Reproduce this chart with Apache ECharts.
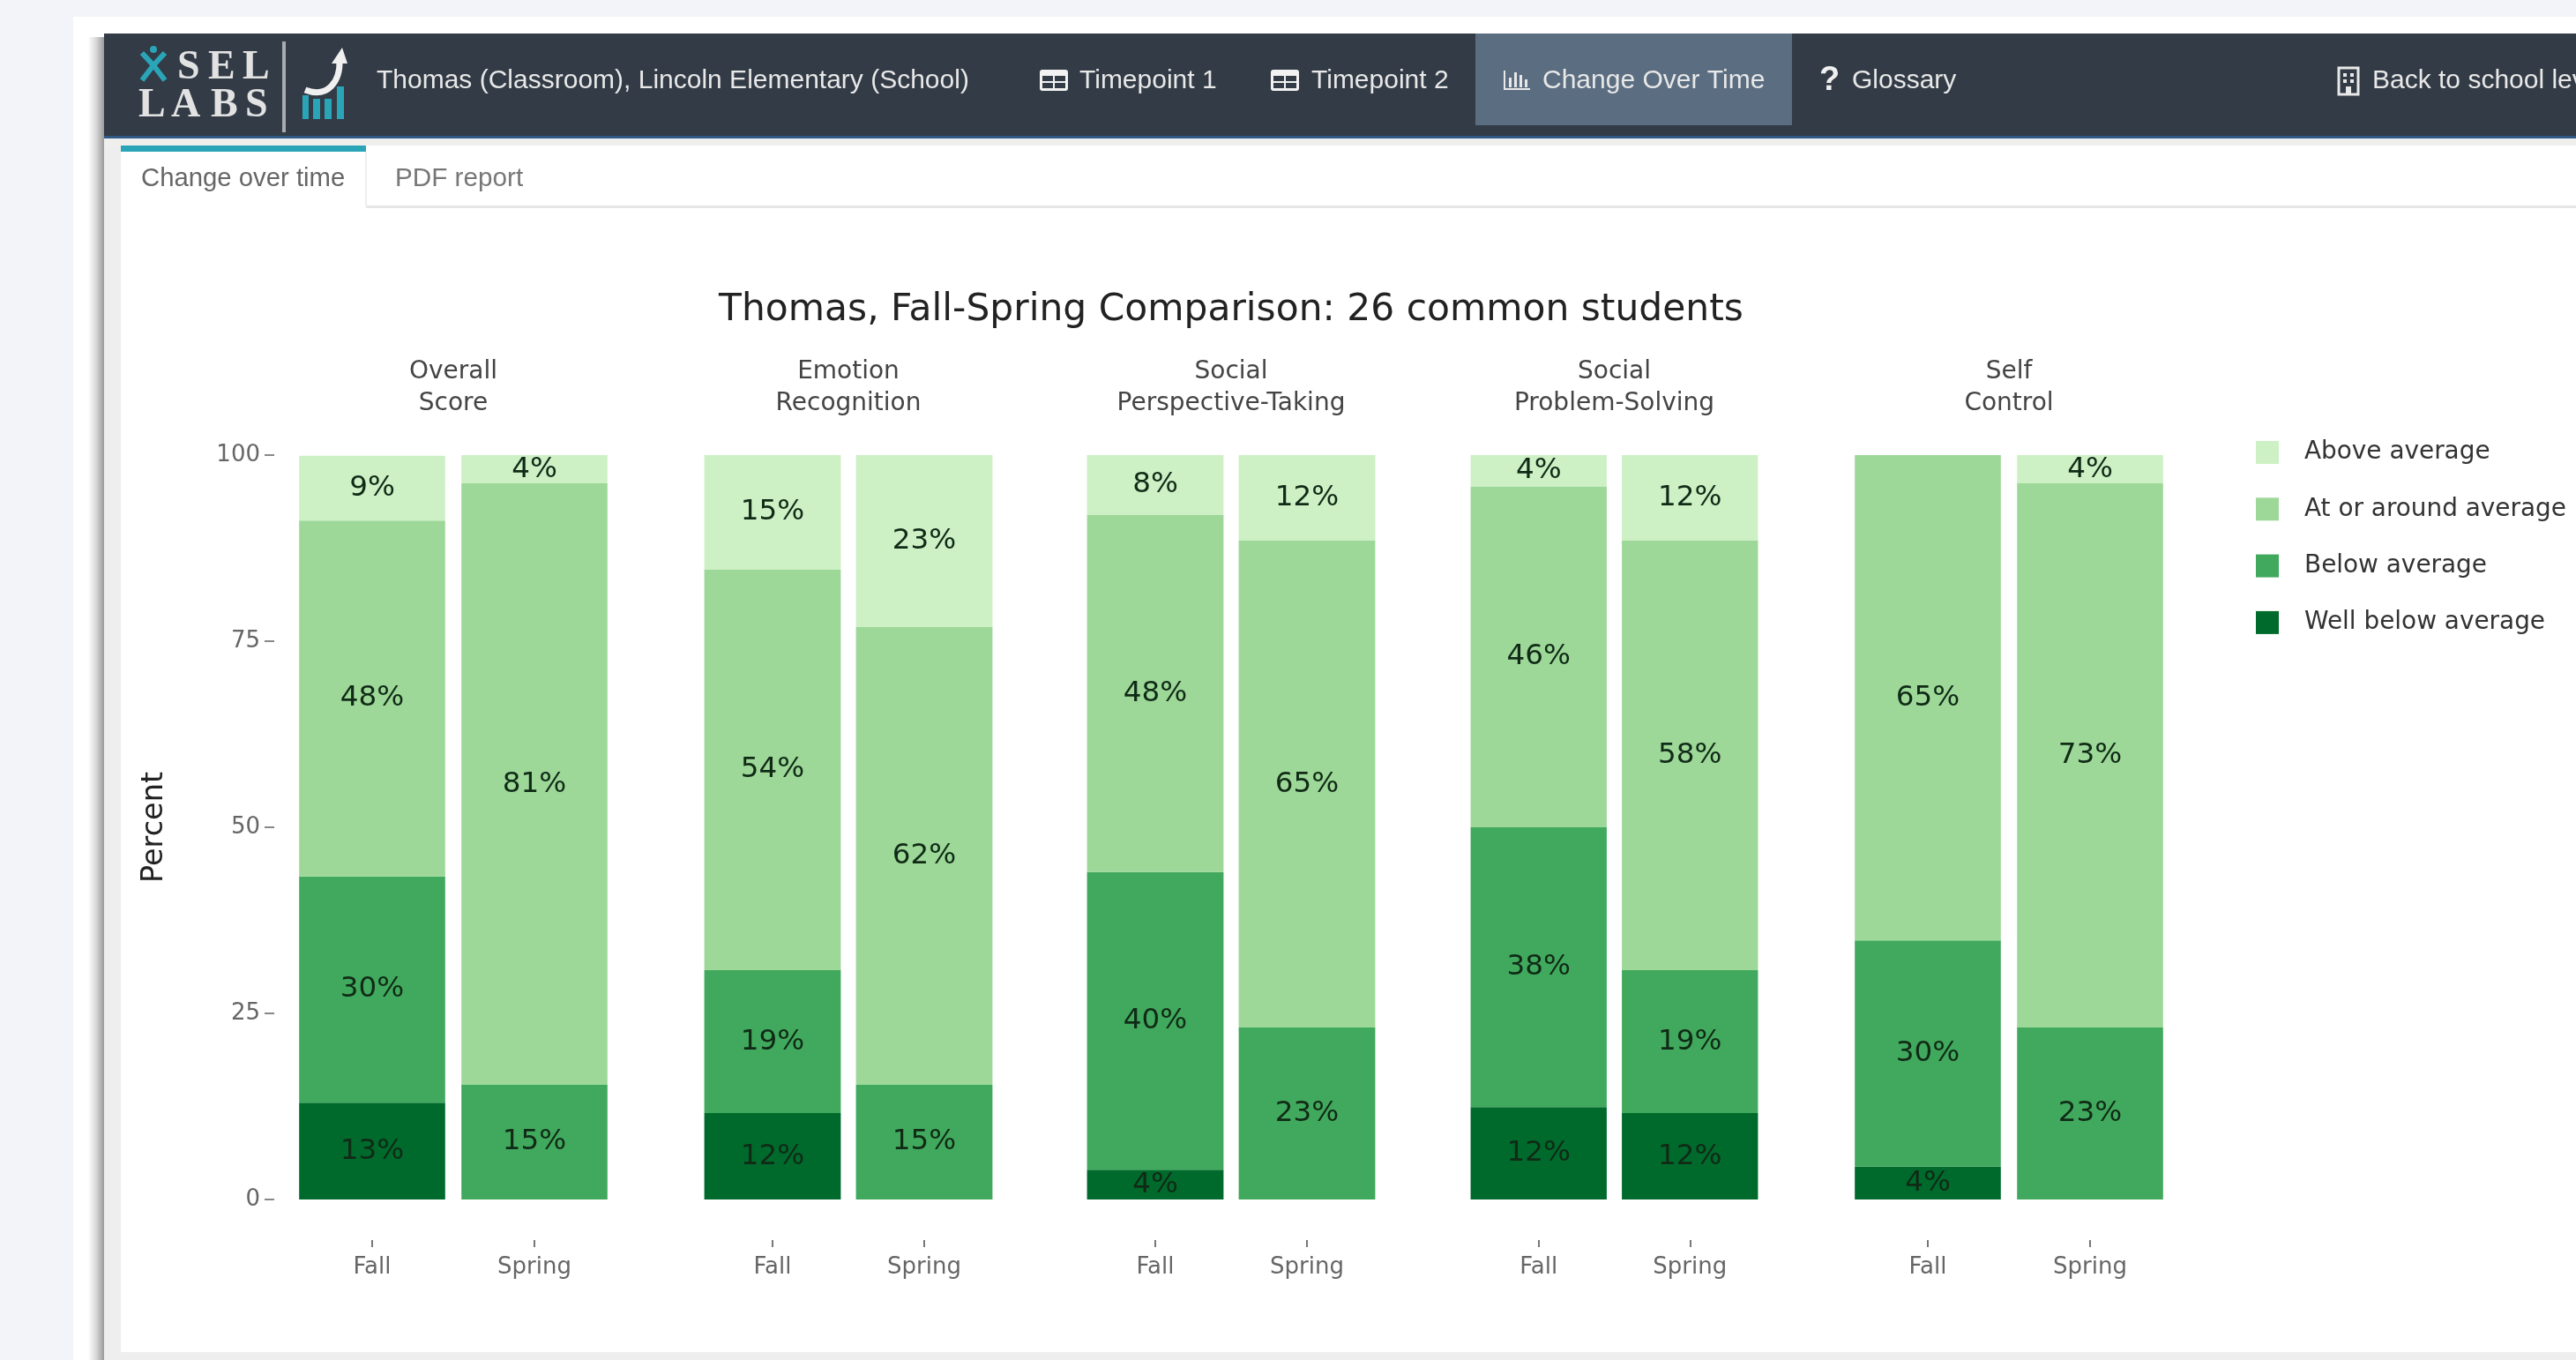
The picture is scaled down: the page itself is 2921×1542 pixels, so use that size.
<!DOCTYPE html>
<html>
<head>
<meta charset="utf-8">
<style>html,body{margin:0;padding:0;background:#f3f4f9;overflow:hidden}#c{width:2921px;height:1542px}</style>
<script src="https://cdn.jsdelivr.net/npm/echarts@6/dist/echarts.min.js"></script>
</head>
<body>
<div id="c"></div>
<script>
const chartTitle = 'Thomas, Fall-Spring Comparison: 26 common students';
const categories = ['Fall', 'Spring'];
const panelTitles = ['Overall\nScore', 'Emotion\nRecognition', 'Social\nPerspective-Taking', 'Social\nProblem-Solving', 'Self\nControl'];
const levelNames = ['Above average', 'At or around average', 'Below average', 'Well below average'];
const yTicks = [0, 25, 50, 75, 100];
// each array: one [Fall, Spring] pair per panel
const aboveAverage = [[8.7, 3.8], [15.4, 23.1], [8, 11.5], [4.2, 11.5], [0, 3.8]];
const atAverage = [[47.8, 80.8], [53.8, 61.5], [48, 65.4], [45.8, 57.7], [65.2, 73.1]];
const belowAverage = [[30.4, 15.4], [19.2, 15.4], [40, 23.1], [37.6, 19.2], [30.4, 23.1]];
const wellBelowAverage = [[13, 0], [11.6, 0], [4, 0], [12.4, 11.6], [4.4, 0]];

const levelColors = ['#cdf0c5', '#9dd898', '#41a95d', '#006a2c'];
const panelLeft = [330, 790, 1224, 1659, 2094];
const panelWidth = [368, 344, 344, 343, 368];
const plotTop = 516, plotHeight = 844;
const SANS = '"DejaVu Sans"', NAV = '"Liberation Sans"', LOGO = '"Liberation Serif"';

const grid = [], xAxis = [], yAxis = [], series = [];
const title = [{text: chartTitle, left: 1391, top: 326, textAlign: 'center',
  textStyle: {fontFamily: SANS, fontSize: 42.4, fontWeight: 'normal', color: '#222'}}];

panelTitles.forEach((t, i) => {
  grid.push({left: panelLeft[i], top: plotTop, width: panelWidth[i], height: plotHeight});
  title.push({text: t, left: panelLeft[i] + panelWidth[i] / 2 - 5, top: 399, textAlign: 'center',
    textStyle: {fontFamily: SANS, fontSize: 28, fontWeight: 'normal', color: '#444', lineHeight: 36}});
  xAxis.push({type: 'category', gridIndex: i, data: categories, offset: 46,
    axisLine: {show: false, onZero: false},
    axisTick: {show: true, alignWithLabel: true, length: 8, lineStyle: {color: '#777', width: 2}},
    axisLabel: {fontFamily: SANS, fontSize: 26, color: '#666', margin: 18}});
  yAxis.push(i === 0
    ? {type: 'value', gridIndex: i, min: 0, max: 100, interval: 25, offset: 19,
       name: 'Percent', nameLocation: 'middle', nameGap: 119, nameRotate: 90,
       nameTextStyle: {fontFamily: SANS, fontSize: 33.5, color: '#222'},
       axisLine: {show: false}, axisTick: {show: true, length: 11, lineStyle: {color: '#888', width: 2}},
       splitLine: {show: false},
       axisLabel: {fontFamily: SANS, fontSize: 26, color: '#666', margin: 16, padding: [4, 0, 0, 0],
         formatter: v => yTicks.includes(v) ? String(v) : ''}}
    : {type: 'value', gridIndex: i, min: 0, max: 100, interval: 25, show: false, splitLine: {show: false}});
  [[wellBelowAverage, 3], [belowAverage, 2], [atAverage, 1], [aboveAverage, 0]].forEach(([vals, lv]) => {
    series.push({type: 'bar', name: levelNames[lv], stack: 'p' + i, xAxisIndex: i, yAxisIndex: i,
      barWidth: '90%', data: vals[i], itemStyle: {color: levelColors[lv]}, silent: true,
      label: {show: true, position: 'inside', fontFamily: SANS, fontSize: 32.6, color: '#102a16',
        formatter: p => p.value > 0 ? Math.round(p.value) + '%' : ''}});
  });
});

// page chrome (dashboard frame around the chart)
const rect = (x, y, w, h, fill, z) => ({type: 'rect', z: z === undefined ? -5 : z, silent: true,
  shape: {x, y, width: w, height: h}, style: {fill}});
const txt = (s, x, y, font, size, fill, weight) => ({type: 'text', z: 5, silent: true, x, y,
  style: {text: s, font: `${weight || 'normal'} ${size}px ${font}`, fill, verticalAlign: 'middle'}});
const tableIcon = (x) => [
  {type: 'rect', z: 5, silent: true, shape: {x, y: 79, width: 32, height: 24, r: 3}, style: {fill: '#f2f2f2'}},
  rect(x + 3, 86, 12, 6, '#323b46', 6), rect(x + 17, 86, 12, 6, '#323b46', 6),
  rect(x + 3, 94, 12, 6, '#323b46', 6), rect(x + 17, 94, 12, 6, '#323b46', 6)
];
const shadow = new echarts.graphic.LinearGradient(0, 0, 1, 0, [
  {offset: 0, color: '#ffffff'}, {offset: 0.5, color: '#d8d8d8'}, {offset: 1, color: '#9a9a9a'}]);
const TEAL = '#2aa5b8', LOGOTXT = '#e2e2e2';
const graphicEls = [
  rect(83, 19, 2838, 1523, '#ffffff', -20),
  rect(100, 42, 18, 1500, shadow, -19),
  rect(118, 155, 19, 1387, '#eeeeee', -19),
  rect(118, 1533, 2803, 9, '#eeeeee', -19),
  rect(118, 38, 2803, 117, '#323b46', 1),
  rect(118, 154, 2803, 3, '#2f5a85', 1),
  rect(118, 157, 2803, 8, '#eff0ee', 1),
  rect(137, 165, 278, 7, TEAL, 2),
  rect(415, 233, 2506, 3, '#e6e6e6', 1),
  rect(414, 172, 2, 62, '#eeeeee', 1),
  rect(1673, 38, 359, 104, '#5b6d80', 2),
  // logo
  txt('S', 201, 77, LOGO, 46, LOGOTXT, 'bold'),
  txt('E', 236, 77, LOGO, 46, LOGOTXT, 'bold'),
  txt('L', 275, 77, LOGO, 46, LOGOTXT, 'bold'),
  txt('L', 157, 120, LOGO, 46, LOGOTXT, 'bold'),
  txt('A', 194, 120, LOGO, 46, LOGOTXT, 'bold'),
  txt('B', 239, 120, LOGO, 46, LOGOTXT, 'bold'),
  txt('S', 278, 120, LOGO, 46, LOGOTXT, 'bold'),
  {type: 'circle', z: 5, silent: true, shape: {cx: 174, cy: 56, r: 4}, style: {fill: TEAL}},
  {type: 'polyline', z: 5, silent: true, shape: {points: [[161, 60], [174, 74], [187, 60]]}, style: {stroke: TEAL, lineWidth: 6, fill: 'none'}},
  {type: 'polyline', z: 5, silent: true, shape: {points: [[174, 74], [161, 91]]}, style: {stroke: TEAL, lineWidth: 6, fill: 'none'}},
  {type: 'polyline', z: 5, silent: true, shape: {points: [[174, 74], [187, 91]]}, style: {stroke: TEAL, lineWidth: 6, fill: 'none'}},
  rect(320, 47, 4, 103, '#a8acb0', 5),
  rect(343, 108, 7, 27, TEAL, 5), rect(355, 112, 8, 23, TEAL, 5),
  rect(368, 112, 8, 23, TEAL, 5), rect(382, 98, 8, 37, TEAL, 5),
  {type: 'bezierCurve', z: 6, silent: true, shape: {x1: 346, y1: 102, x2: 385, y2: 68, cpx1: 372, cpy1: 112, cpx2: 386, cpy2: 92}, style: {stroke: '#f0f0f0', lineWidth: 7, fill: 'none'}},
  {type: 'polygon', z: 6, silent: true, shape: {points: [[376, 72], [388, 54], [394, 72]]}, style: {fill: '#f0f0f0'}},
  // nav text
  txt('Thomas (Classroom), Lincoln Elementary (School)', 427, 92, NAV, 30, '#e8e8e8'),
  ...tableIcon(1179), txt('Timepoint 1', 1224, 92, NAV, 30, '#e8e8e8'),
  ...tableIcon(1441), txt('Timepoint 2', 1487, 92, NAV, 30, '#e8e8e8'),
  rect(1705, 80, 2, 22, '#e8e8e8', 5), rect(1705, 100, 30, 2, '#e8e8e8', 5),
  rect(1711, 88, 3, 11, '#e8e8e8', 5), rect(1717, 82, 3, 17, '#e8e8e8', 5), rect(1723, 85, 3, 14, '#e8e8e8', 5), rect(1729, 90, 3, 9, '#e8e8e8', 5),
  txt('Change Over Time', 1749, 92, NAV, 30, '#e8e8e8'),
  txt('?', 2063, 92, NAV, 38, '#f0f0f0', 'bold'),
  txt('Glossary', 2100, 92, NAV, 30, '#e8e8e8'),
  {type: 'rect', z: 5, silent: true, shape: {x: 2652, y: 77, width: 22, height: 30}, style: {fill: 'none', stroke: '#e8e8e8', lineWidth: 3}},
  rect(2657, 83, 4, 4, '#e8e8e8', 5), rect(2665, 83, 4, 4, '#e8e8e8', 5),
  rect(2657, 90, 4, 4, '#e8e8e8', 5), rect(2665, 90, 4, 4, '#e8e8e8', 5),
  rect(2660, 98, 6, 9, '#e8e8e8', 5),
  txt('Back to school level', 2690, 92, NAV, 30, '#e8e8e8'),
  // tabs
  txt('Change over time', 160, 203, NAV, 29.3, '#666666'),
  txt('PDF report', 448, 203, NAV, 29.7, '#777777')
];

const chart = echarts.init(document.getElementById('c'), null, {renderer: 'canvas'});
chart.setOption({
  animation: false,
  backgroundColor: 'transparent',
  title, grid, xAxis, yAxis, series,
  legend: {show: true, orient: 'vertical', left: 2553, top: 494, itemWidth: 26, itemHeight: 26, itemGap: 36.3,
    selectedMode: false, data: levelNames, icon: 'rect',
    textStyle: {fontFamily: SANS, fontSize: 27.9, color: '#333', padding: [0, 0, 0, 24]}},
  graphic: {elements: graphicEls}
});
</script>
</body>
</html>
